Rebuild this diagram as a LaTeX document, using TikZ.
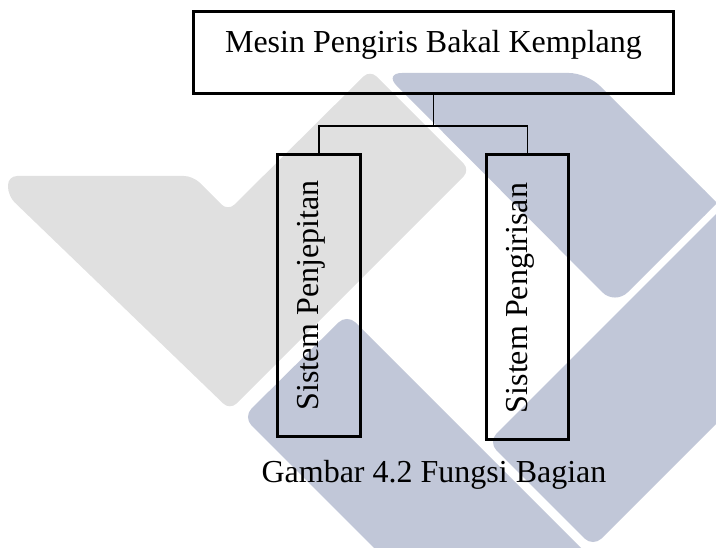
\documentclass[tikz,border=0pt]{standalone}
\usepackage{fontspec}
\setmainfont{Liberation Serif}
\definecolor{wmgrey}{HTML}{E0E0E0}
\definecolor{wmblue}{HTML}{C1C7D8}

\begin{document}
\begin{tikzpicture}[x=1pt,y=-1pt,
  wmgreyshape/.style={fill=wmgrey, rounded corners=9pt},
  wmblueshape/.style={fill=wmblue, rounded corners=12pt},
  box/.style={draw=black, line width=3pt, inner sep=0pt},
  conn/.style={draw=black, line width=1.2pt},
  lbl/.style={inner sep=0pt, text=black, font=\fontsize{32}{38}\selectfont},
]
\useasboundingbox (0,0) rectangle (716,548);

% background logo shapes
\begin{scope}
  \clip (0,0) rectangle (716,548);
  \fill[wmgreyshape] (8,176) -- (193,176) -- (228,211) -- (370,70) -- (470,170)
        -- (230,410) -- (8,196) -- cycle;
  % upper band, its right tip kept sharp
  \fill[wmblueshape, rounded corners=18pt] (384,73) -- (587,73) -- (717,203) -- (615,305) -- cycle;
  \fill[wmblue] (704,190) -- (717,203) -- (704,216) -- cycle;
  \fill[wmblueshape] (488,442) -- (780,150) -- (780,360) -- (593,547) -- cycle;
  \fill[wmblueshape] (243,417) -- (347,314) -- (650,617) -- (443,617) -- cycle;
\end{scope}

% function tree
\node[box, minimum width=479.5pt, minimum height=81.6pt] (machine) at (433.25,52.5) {};
\node[lbl, anchor=base] (machinetext) at (433.5,53) {Mesin Pengiris Bakal Kemplang};

\node[box, minimum width=83.2pt, minimum height=282.5pt] (clamp) at (318.9,295.45) {};
\node[lbl, rotate=90, anchor=base] (clamptext) at (318,295.5) {Sistem Penjepitan};

\node[box, minimum width=82.8pt, minimum height=285pt] (slice) at (527.4,297.5) {};
\node[lbl, rotate=90, anchor=base] (slicetext) at (527,298) {Sistem Pengirisan};

\coordinate (joint) at (433.25,126);
\draw[conn] (machine.south) -- (joint);
\draw[conn] (clamp.north) |- (joint) -| (slice.north);

\node[lbl, anchor=base] (caption) at (434,482.5) {Gambar 4.2 Fungsi Bagian};
\end{tikzpicture}
\end{document}
